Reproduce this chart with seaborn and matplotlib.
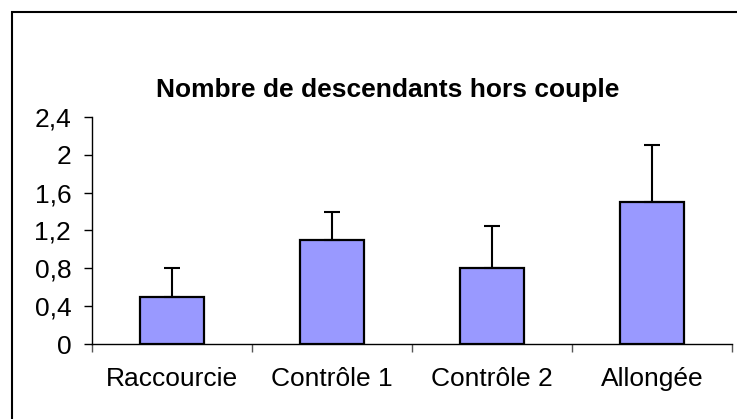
import matplotlib
matplotlib.use('Agg')
import matplotlib.pyplot as plt
import seaborn as sns
import pandas as pd
from matplotlib.patches import Rectangle
from matplotlib.ticker import FixedLocator, FuncFormatter


# ==========================
# DONNÉES
# ==========================

categories = ['Raccourcie', 'Contrôle 1', 'Contrôle 2', 'Allongée']
moyennes = [0.5, 1.1, 0.8, 1.5]
erreurs = [0.3, 0.3, 0.45, 0.6]
yticks = [0, 0.4, 0.8, 1.2, 1.6, 2.0, 2.4]
titre = 'Nombre de descendants hors couple'

df = pd.DataFrame({'groupe': categories, 'valeur': moyennes})


# ==========================
# STYLE
# ==========================

sns.set_theme(style='white')
plt.rcParams['font.family'] = ['Liberation Sans', 'DejaVu Sans']


# ==========================
# FIGURE
# ==========================

fig = plt.figure(figsize=(7.37, 4.19), dpi=100)
ax = fig.add_axes([0.1248, 0.1783, 0.8684, 0.5432])

sns.barplot(
    data=df,
    x='groupe',
    y='valeur',
    color='#9999FF',
    saturation=1,
    width=0.4,
    edgecolor='black',
    linewidth=1.6,
    errorbar=None,
    ax=ax
)

ax.errorbar(
    range(len(categories)),
    moyennes,
    yerr=[[0] * len(erreurs), erreurs],
    fmt='none',
    ecolor='black',
    elinewidth=1.5,
    capsize=5.8,
    capthick=1.5,
    zorder=1
)

ax.set_xlim(-0.5, len(categories) - 0.5)
ax.set_ylim(0, 2.4)
ax.set_yticks(yticks)
ax.yaxis.set_major_formatter(
    FuncFormatter(lambda v, p: f'{v:g}'.replace('.', ','))
)

# graduations entre les catégories
ax.xaxis.set_major_locator(
    FixedLocator([i + 0.5 for i in range(-1, len(categories))])
)
ax.xaxis.set_minor_locator(FixedLocator(range(len(categories))))
ax.xaxis.set_major_formatter(FuncFormatter(lambda v, p: ''))
ax.set_xticklabels(categories, minor=True)

ax.tick_params(axis='y', which='major', direction='out', length=6,
               width=1, color='black', labelsize=19, pad=9,
               left=True, labelcolor='black')
ax.tick_params(axis='x', which='major', direction='out', length=6,
               width=1, color='#555555', bottom=True)
ax.tick_params(axis='x', which='minor', length=0, labelsize=19,
               pad=16, labelcolor='black')

ax.set_xlabel('')
ax.set_ylabel('')

for side in ['top', 'right']:
    ax.spines[side].set_visible(False)
for side in ['left', 'bottom']:
    ax.spines[side].set_color('black')
    ax.spines[side].set_linewidth(1)

fig.text(388 / 737, 1 - 97 / 419, titre, ha='center', va='baseline',
         fontsize=19, fontweight='bold', color='black')

# cadre extérieur
fig.patches.append(
    Rectangle((12 / 737, -0.1), 1.2, 1 - 12 / 419 + 0.1,
              fill=False, edgecolor='black', linewidth=1.5,
              transform=fig.transFigure, figure=fig)
)

fig.savefig('out.png', dpi=100)
plt.close(fig)
